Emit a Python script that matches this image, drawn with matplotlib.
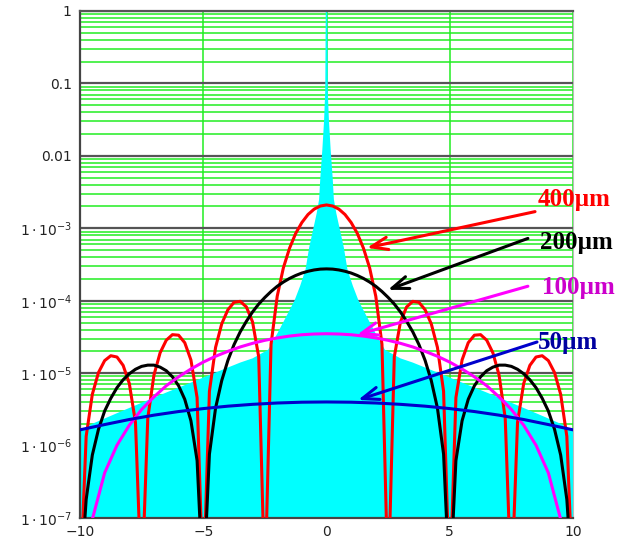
import numpy as np
import matplotlib.pyplot as plt
from matplotlib.ticker import LogLocator, NullFormatter

# right half of every profile, the picture is symmetric about x = 0
# (1e-8 marks a null that drops below the bottom of the axis)
x_fine = np.linspace(0, 10, 41)
red_400 = [2.1e-3, 2.03e-3, 1.84e-3, 1.55e-3, 1.20e-3, 8.5e-4, 5.3e-4, 2.84e-4, 1.15e-4, 2.5e-5, 1e-8,
           1.68e-5, 5.1e-5, 8.2e-5, 9.8e-5, 9.5e-5, 7.5e-5, 4.8e-5, 2.27e-5, 5.6e-6, 1e-8,
           4.6e-6, 1.52e-5, 2.63e-5, 3.34e-5, 3.4e-5, 2.85e-5, 1.91e-5, 9.4e-6, 2.4e-6, 1e-8,
           2.1e-6, 7.2e-6, 1.28e-5, 1.67e-5, 1.74e-5, 1.49e-5, 1.02e-5, 5.1e-6, 1.34e-6, 1e-8]
black_200 = [2.75e-4, 2.73e-4, 2.66e-4, 2.55e-4, 2.41e-4, 2.23e-4, 2.03e-4, 1.81e-4, 1.58e-4, 1.34e-4, 1.11e-4,
             9.0e-5, 7.0e-5, 5.2e-5, 3.72e-5, 2.48e-5, 1.50e-5, 7.9e-6, 3.3e-6, 7.6e-7, 1e-8,
             6.2e-7, 2.2e-6, 4.35e-6, 6.7e-6, 8.9e-6, 1.08e-5, 1.21e-5, 1.29e-5, 1.29e-5, 1.24e-5,
             1.13e-5, 9.8e-6, 8.1e-6, 6.3e-6, 4.5e-6, 3.0e-6, 1.68e-6, 7.4e-7, 1.8e-7, 1e-8]

x_mid = np.linspace(0, 10, 21)
magenta_100 = [3.5e-5, 3.47e-5, 3.39e-5, 3.25e-5, 3.06e-5, 2.84e-5, 2.58e-5, 2.30e-5, 2.00e-5, 1.71e-5,
               1.42e-5, 1.14e-5, 8.9e-6, 6.7e-6, 4.7e-6, 3.15e-6, 1.91e-6, 1.01e-6, 4.2e-7, 9.6e-8, 1e-8]

x_coarse = np.linspace(0, 10, 11)
blue_50 = [4.0e-6, 3.97e-6, 3.87e-6, 3.71e-6, 3.50e-6, 3.24e-6, 2.95e-6, 2.63e-6, 2.29e-6, 1.95e-6, 1.65e-6]

# cyan background profile (right half)
cyan_x = [0, 0.03, 0.05, 0.1, 0.17, 0.25, 0.3, 0.4, 0.57, 0.7, 0.85, 1.07, 1.3, 1.65, 2.0, 2.37,
          3.0, 3.5, 4.5, 5.5, 6.5, 7.5, 8.5, 9.5, 10]
cyan_y = [1.0, 1.0, 0.08, 0.03, 0.012, 5e-3, 2.5e-3, 1.6e-3, 8.7e-4, 5.5e-4, 2.7e-4, 1.6e-4, 1.0e-4,
          5.9e-5, 3.5e-5, 2.1e-5, 1.6e-5, 1.4e-5, 1.02e-5, 7.4e-6, 5.4e-6, 3.9e-6, 2.8e-6, 2.0e-6, 1.6e-6]

labels = ["400µm", "200µm", "100µm", "50µm"]
y_ticks = [1e-7, 1e-6, 1e-5, 1e-4, 1e-3, 1e-2, 1e-1, 1]
y_ticklabels = [r"$1\cdot10^{-7}$", r"$1\cdot10^{-6}$", r"$1\cdot10^{-5}$", r"$1\cdot10^{-4}$",
                r"$1\cdot10^{-3}$", "0.01", "0.1", "1"]
x_ticks = [-10, -5, 0, 5, 10]


def mirror(x, y):
    x = np.asarray(x, dtype=float)
    y = np.asarray(y, dtype=float)
    return np.concatenate([-x[::-1], x[1:]]), np.concatenate([y[::-1], y[1:]])


fig = plt.figure(figsize=(6.19, 5.41), dpi=100)
ax = fig.add_axes([80 / 619, 23 / 541, 493 / 619, 507 / 541])
ax.set_yscale("log")
ax.set_xlim(-10, 10)
ax.set_ylim(1e-7, 1)

# grid under the fill
ax.set_axisbelow(True)
ax.yaxis.set_minor_locator(LogLocator(base=10, subs=np.arange(2, 10), numticks=20))
ax.yaxis.set_minor_formatter(NullFormatter())
ax.yaxis.grid(True, which="minor", color="#22ee22", lw=1.1)
ax.yaxis.grid(True, which="major", color="#555555", lw=1.6)
ax.xaxis.grid(True, which="major", color="#22ee22", lw=1.1)

cx, cy = mirror(cyan_x, cyan_y)
ax.fill_between(cx, cy, 1e-9, color="#00ffff", lw=0, zorder=2)

curves = [
    (x_fine, red_400, "#ff0000"),
    (x_fine, black_200, "#000000"),
    (x_mid, magenta_100, "#ff00ff"),
    (x_coarse, blue_50, "#0000cc"),
]
for xs, ys, c in curves:
    mx, my = mirror(xs, ys)
    ax.plot(mx, my, color=c, lw=2.2, zorder=3)

ax.set_xticks(x_ticks)
ax.set_xticklabels([str(t).replace("-", "\u2212") for t in x_ticks])
ax.set_yticks(y_ticks)
ax.set_yticklabels(y_ticklabels)
ax.tick_params(which="both", length=0, labelsize=10, labelcolor="#222222")
ax.tick_params(axis="y", pad=6)
ax.tick_params(axis="x", pad=5)

for side in ["left", "bottom"]:
    ax.spines[side].set_color("#444444")
    ax.spines[side].set_linewidth(1.6)
ax.spines["top"].set_color("#555555")
ax.spines["top"].set_linewidth(1.6)
ax.spines["right"].set_color("#bbbbbb")

# labels with arrows
text_colors = ["#ff0000", "#000000", "#cc00cc", "#0000a0"]
arrow_colors = ["#ff0000", "#000000", "#ff00ff", "#0000cc"]
text_pos = [(8.58, -2.60), (8.66, -3.19), (8.74, -3.82), (8.58, -4.58)]
arrow_start = [(8.46, -2.77), (8.17, -3.14), (8.17, -3.80), (8.54, -4.57)]
arrow_tip = [(1.64, -3.27), (2.49, -3.85), (1.24, -4.47), (1.28, -5.37)]
for lab, tc, ac, tp, st, tip in zip(labels, text_colors, arrow_colors, text_pos, arrow_start, arrow_tip):
    ax.annotate("", xy=(tip[0], 10 ** tip[1]), xytext=(st[0], 10 ** st[1]),
                arrowprops=dict(arrowstyle="->,head_length=1.2,head_width=0.45", color=ac, lw=2.2,
                                shrinkA=0, shrinkB=0), zorder=4, annotation_clip=False)
    ax.text(tp[0], 10 ** tp[1], lab, color=tc, fontsize=18, fontweight="bold",
            family="Liberation Serif", va="center", ha="left", clip_on=False, zorder=5)

fig.savefig("out.png", dpi=100)
